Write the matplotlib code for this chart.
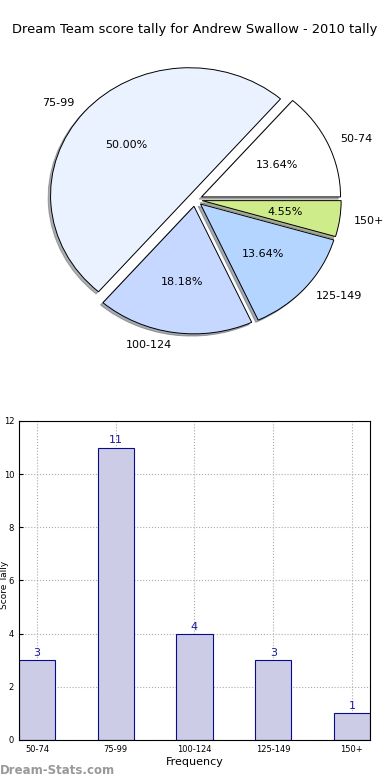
import matplotlib
matplotlib.use("Agg")
import matplotlib.pyplot as plt

# data
ranges = ['50-74', '75-99', '100-124', '125-149', '150+']
counts = [3, 11, 4, 3, 1]
pie_colors = ['#ffffff', '#eaf1ff', '#c6d8ff', '#b4d5ff', '#cfec8a']
title = 'Dream Team score tally for Andrew Swallow - 2010 tally'

fig = plt.figure(figsize=(3.9, 7.8), dpi=100)

# pie
ax = fig.add_axes([0.036, 0.531, 0.928, 0.426])
wedges, texts, autotexts = ax.pie(counts, labels=ranges, colors=pie_colors,
                                  explode=[0.05] * len(counts), radius=0.96,
                                  shadow={'ox': -0.012, 'oy': -0.012, 'shade': 0.6},
                                  autopct='%.2f%%', startangle=0,
                                  wedgeprops={'edgecolor': 'black', 'linewidth': 0.7},
                                  textprops={'fontsize': 8})
ax.set_aspect('auto')
ax.set_xlim(-1.25, 1.25)
ax.set_ylim(-1.25, 1.25)
fig.text(0.5, 1 - 30 / 780, title, ha='center', va='center', fontsize=9.4)

# bars
ax2 = fig.add_axes([0.0487, 0.0513, 0.9, 0.409])
x = list(range(len(ranges)))
ax2.bar(x, counts, width=0.46, color='#cccce6', edgecolor='#0a0a8c', linewidth=0.8)
for i, c in enumerate(counts):
    ax2.text(i, c + 0.08, str(c), ha='center', va='bottom', fontsize=8, color='#1a1aa0')
ax2.set_xlim(-0.23, 4.23)
ax2.set_ylim(0, 12)
ax2.set_xticks(x)
ax2.set_xticklabels(ranges)
ax2.set_yticks(range(0, 13, 2))
ax2.tick_params(labelsize=6, direction='in', length=3)
ax2.grid(True, linestyle=':', color='#aaaaaa', linewidth=0.8)
ax2.set_axisbelow(True)
ax2.set_xlabel('Frequency', fontsize=8, labelpad=2)
fig.text(0.011, 0.25, 'Score Tally', rotation=90, ha='center', va='center', fontsize=6.5)

fig.text(0.0, 0.012, 'Dream-Stats.com', fontsize=8.5, color='#999999',
         fontweight='bold', ha='left', va='center')

fig.savefig('out.png', dpi=100)
